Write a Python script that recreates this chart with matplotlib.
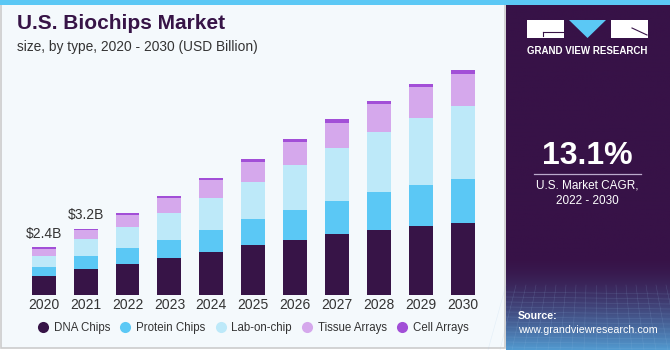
import numpy as np
import matplotlib
matplotlib.use("Agg")
import matplotlib.pyplot as plt
from matplotlib.patches import Rectangle, Polygon
from matplotlib.lines import Line2D

plt.rcParams['font.family'] = ['Liberation Sans', 'DejaVu Sans']

# data (USD billion)
years = ['2020', '2021', '2022', '2023', '2024', '2025', '2026', '2027', '2028', '2029', '2030']
dna_chips = [0.93, 1.28, 1.51, 1.80, 2.11, 2.42, 2.67, 2.98, 3.17, 3.37, 3.50]
protein_chips = [0.42, 0.63, 0.80, 0.88, 1.07, 1.28, 1.48, 1.62, 1.87, 2.02, 2.15]
lab_on_chip = [0.57, 0.80, 1.01, 1.32, 1.56, 1.82, 2.21, 2.57, 2.93, 3.25, 3.58]
tissue_arrays = [0.33, 0.45, 0.59, 0.75, 0.86, 0.98, 1.11, 1.22, 1.33, 1.50, 1.56]
cell_arrays = [0.08, 0.08, 0.10, 0.08, 0.12, 0.15, 0.16, 0.18, 0.18, 0.15, 0.18]
series_names = ['DNA Chips', 'Protein Chips', 'Lab-on-chip', 'Tissue Arrays', 'Cell Arrays']
colors = ['#371447', '#5BC8F5', '#BDE9F9', '#D5A8EC', '#A24FD7']
labels = {0: '$2.4B', 1: '$3.2B'}

W, H = 670, 350
fig = plt.figure(figsize=(W / 100, H / 100), dpi=100)
fig.patch.set_facecolor('#FFFFFF')

# background decoration in pixel coords
bg = fig.add_axes([0, 0, 1, 1], zorder=0)
bg.add_patch(Rectangle((1, 1), 504, 347, facecolor='#F4F9FC', edgecolor='#CCCCCC', lw=1.2))
bg.add_patch(Rectangle((0, 0), W, 5, facecolor='#5BC8F5', edgecolor='none'))

# right panel, gradient towards the bottom
grad = np.ones((350, 1, 3))
top_c = np.array([0x37, 0x12, 0x47]) / 255
bot_c = np.array([0x52, 0x9C, 0xD2]) / 255
for i in range(350):
    t = 0 if i < 255 else min(1, ((i - 255) / 95) ** 1.6)
    grad[i, 0] = top_c * (1 - t) + bot_c * t
bg.imshow(grad, extent=(506, W, H, 5), aspect='auto', zorder=1)
bg.set_xlim(0, W)
bg.set_ylim(H, 0)
bg.axis('off')
# faint grid texture
for k in range(12):
    yy = 292 + k * 5
    bg.plot([506, W], [yy, yy + 2], color='#9CC4E8', lw=0.4, alpha=0.2, zorder=2)
for k in range(18):
    xx = 506 + k * 10
    bg.plot([xx, xx + (k - 9) * 2], [285, H], color='#9CC4E8', lw=0.4, alpha=0.2, zorder=2)

# logo
bg.add_patch(Rectangle((527, 20), 37, 18, facecolor='white', edgecolor='none', zorder=3))
bg.plot([543, 563], [32, 32], color='#371447', lw=0.8, zorder=4)
bg.plot([543, 543], [32, 36], color='#371447', lw=0.8, zorder=4)
bg.add_patch(Polygon([(569, 20), (606, 20), (587.5, 38)], closed=True,
                     facecolor='#5BC8F5', edgecolor='none', zorder=3))
bg.add_patch(Rectangle((611, 20), 37, 18, facecolor='white', edgecolor='none', zorder=3))
bg.plot([632, 647], [28, 35], color='#371447', lw=0.8, zorder=4)
bg.text(587.5, 50.5, 'GRAND VIEW RESEARCH', color='white', fontsize=7.0, fontweight='bold',
        ha='center', va='center', zorder=4)

bg.text(587.5, 156, '13.1%', color='white', fontsize=23, fontweight='bold',
        ha='center', va='center', zorder=4)
bg.plot([534, 641], [173.5, 173.5], color='#BBAACC', lw=0.9, zorder=4)
bg.text(587.5, 186, 'U.S. Market CAGR,', color='white', fontsize=8.5,
        ha='center', va='center', zorder=4)
bg.text(587.5, 201, '2022 - 2030', color='white', fontsize=8.5,
        ha='center', va='center', zorder=4)
bg.text(518, 316, 'Source:', color='white', fontsize=7.7, fontweight='bold',
        ha='left', va='center', zorder=4)
bg.text(518, 330, 'www.grandviewresearch.com', color='white', fontsize=7.7,
        ha='left', va='center', zorder=4)

# titles
bg.text(17, 29, 'U.S. Biochips Market', color='#371447', fontsize=15, fontweight='bold',
        ha='left', va='baseline')
bg.text(17, 51, 'size, by type, 2020 - 2030 (USD Billion)', color='#333333', fontsize=9.9,
        ha='left', va='baseline')

# chart axes
px_per_unit = 20.5
ax_left, ax_right = 10.2, 496.2
base_y, top_y = 295, 60
ax = fig.add_axes([ax_left / W, (H - base_y) / H, (ax_right - ax_left) / W, (base_y - top_y) / H],
                  zorder=2)
ax.set_facecolor('none')
x = np.arange(len(years))
series = [dna_chips, protein_chips, lab_on_chip, tissue_arrays, cell_arrays]
bottom = np.zeros(len(years))
for vals, c, name in zip(series, colors, series_names):
    ax.bar(x, vals, 0.57, bottom=bottom, color=c, edgecolor='none', label=name)
    bottom += np.array(vals)
for i, txt in labels.items():
    ax.text(x[i], bottom[i] + 0.3, txt, ha='center', va='bottom', fontsize=10, color='#333333')

ax.set_xlim(-0.8, 10.8)
ax.set_ylim(0, (base_y - top_y) / px_per_unit)
ax.set_xticks(x)
ax.set_xticklabels(years, fontsize=10, color='#333333')
ax.tick_params(axis='x', length=0, pad=2)
ax.set_yticks([])
for s in ax.spines.values():
    s.set_visible(False)

handles = [Line2D([], [], marker='o', linestyle='none', markersize=8, markerfacecolor=c,
                  markeredgecolor='none') for c in colors]
fig.legend(handles, series_names, loc='center', bbox_to_anchor=(253 / W, 1 - 328.5 / H),
           ncol=5, frameon=False, fontsize=8.3, handletextpad=0.45, columnspacing=0.8,
           handlelength=1.0, labelcolor='#333333')

fig.savefig('out.png', dpi=100, facecolor=fig.get_facecolor())
